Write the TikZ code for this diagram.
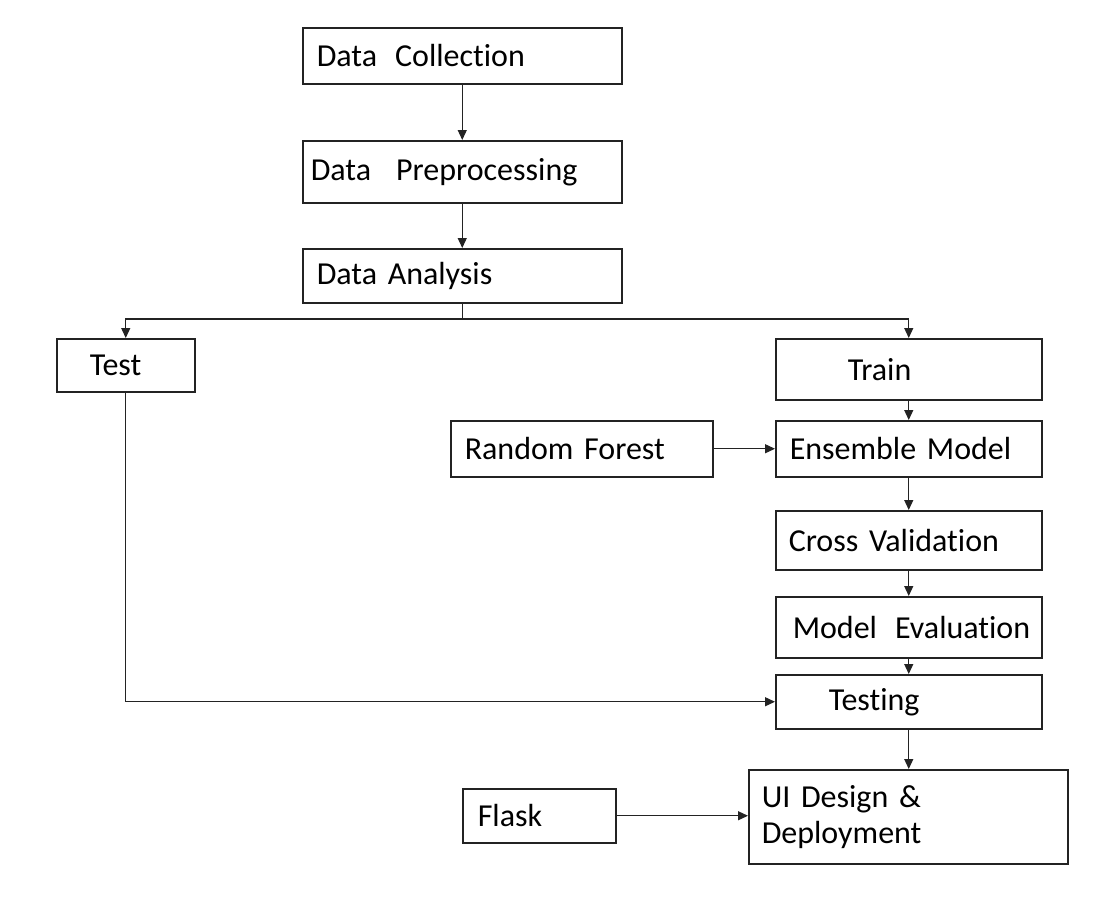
\documentclass[tikz,border=0pt]{standalone}
\usepackage{fontspec}
\setmainfont{Carlito}[Ligatures=NoCommon]
\usetikzlibrary{arrows.meta}
\definecolor{ln}{RGB}{35,35,35}
\tikzset{
  box/.style={draw=ln, line width=1.5pt, anchor=north west, align=left,
    inner xsep=0pt, inner ysep=0pt, font=\fontsize{32}{36}\selectfont, text=black},
  conn/.style={draw=ln, line width=1.3pt},
  arr/.style={conn, -{Triangle[length=10pt,width=9pt]}},
}
\newcommand{\bx}[7]{% name, x, y, W, H, pad, text
  \node[box, minimum height=#5pt, text width=#4pt] (#1) at (#2,-#3) {\hspace*{#6pt}#7};}
\begin{document}
\begin{tikzpicture}[x=1pt,y=1pt]
\useasboundingbox (0,0) rectangle (1096,-910);
\bx{dc}{302}{27}{319}{56}{14}{Data\hspace{18pt}Collection}
\bx{dp}{302}{140}{319}{62}{8}{Data\hspace{25pt}Preprocessing}
\bx{da}{302}{248}{319}{54}{14}{Data Analysis}
\bx{test}{56}{338}{138}{53}{33}{Test}
\bx{train}{775}{338}{266}{61}{72}{Train}
\bx{rf}{450}{420}{262}{56}{14}{Random Forest}
\bx{ens}{775}{420}{266}{56}{14}{Ensemble Model}
\bx{cv}{775}{510}{266}{59}{13}{Cross Validation}
\bx{me}{775}{596}{266}{61}{17}{Model\hspace{18pt}Evaluation}
\bx{testing}{775}{674}{266}{54}{53}{Testing}
\bx{ui}{748}{769}{319}{94}{13}{UI Design \&\\\hspace*{13pt}Deployment}
\bx{flask}{462}{788}{153}{54}{15}{Flask}
\coordinate (j) at (da.south |- 0,-319);
\draw[arr] (dc.south) -- (dp.north);
\draw[arr] (dp.south) -- (da.north);
\draw[conn] (da.south) -- (j);
\draw[arr] (j) -| (test.north);
\draw[arr] (j) -| (train.north);
\draw[arr] (train.south) -- (ens.north);
\draw[arr] (rf.east) -- (ens.west);
\draw[arr] (ens.south) -- (cv.north);
\draw[arr] (cv.south) -- (me.north);
\draw[arr] (me.south) -- (testing.north);
\draw[arr] (testing.south) -- (testing.south |- ui.north);
\draw[arr] (test.south) |- (testing.west);
\draw[arr] (flask.east) -- (flask.east -| ui.west);
\end{tikzpicture}
\end{document}
